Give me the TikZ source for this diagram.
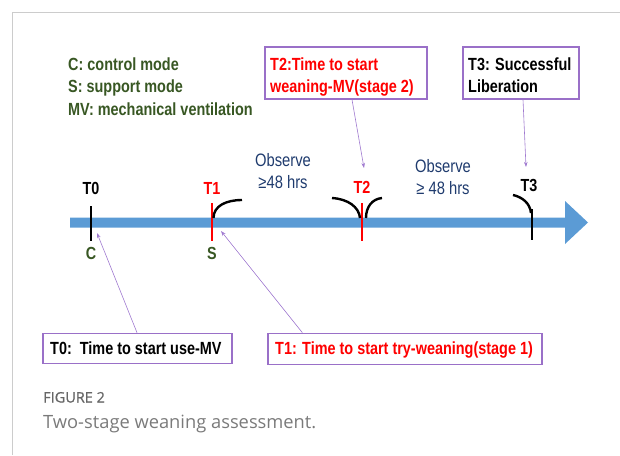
\documentclass[tikz,border=0pt]{standalone}
\usepackage{fontspec}
\usetikzlibrary{arrows.meta}
\setmainfont{Liberation Sans}
\newfontfamily\nar[FakeStretch=0.82]{Liberation Sans}
\newfontfamily\capfont{Open Sans}
\newfontfamily\capfontb[FakeBold=0.8]{Open Sans}
\definecolor{legendgreen}{HTML}{385723}
\definecolor{navytext}{HTML}{1F3B6E}
\definecolor{redtext}{HTML}{FF0000}
\definecolor{boxpurple}{HTML}{9A70C8}
\definecolor{connpurple}{HTML}{A07AD0}
\definecolor{arrowblue}{HTML}{5B9BD5}
\definecolor{framegray}{HTML}{CCCCCC}
\begin{document}
\begin{tikzpicture}[x=1pt,y=-1pt,
  legend/.style={anchor=base west,inner sep=0pt,text=legendgreen,font=\nar\bfseries\fontsize{17.6}{22}\selectfont},
  callbox/.style={draw=boxpurple,line width=1.3pt,fill=white,inner sep=0pt},
  boxtext/.style={anchor=base west,inner sep=0pt,font=\nar\bfseries\fontsize{17.6}{22}\selectfont},
  ticklabel/.style={inner sep=0pt,font=\nar\bfseries\fontsize{17.5}{20}\selectfont},
  obstext/.style={inner sep=0pt,align=center,text=navytext,font=\nar\fontsize{18}{22}\selectfont},
  conn/.style={draw=connpurple,line width=0.6pt,-{Stealth[length=5pt,width=3.5pt]}},
  tickline/.style={line width=2pt},
  bracket/.style={line width=2.4pt,black},
]
\useasboundingbox (0,0) rectangle (620,455);
% frame
\draw[framegray,line width=1.2pt] (12.5,455) -- (12.5,12.5) -- (620,12.5);

% legend
\node[legend] (lc) at (68,70) {C: control mode};
\node[legend] (ls) at (68,92.5) {S: support mode};
\node[legend] (lmv) at (68,115) {MV: mechanical ventilation};

% timeline arrow
\fill[arrowblue] (70,217.5) -- (565,217.5) -- (565,201) -- (588,222.5) -- (565,244) -- (565,227.5) -- (70,227.5) -- cycle;

% ticks
\coordinate (t0top) at (91,206); \coordinate (t0bot) at (91,241);
\coordinate (t1top) at (212,203); \coordinate (t1bot) at (212,241);
\coordinate (t2top) at (362,203); \coordinate (t2bot) at (362,241);
\coordinate (t3top) at (532,209); \coordinate (t3bot) at (532,240);
\draw[tickline,black] (t0top) -- (t0bot);
\draw[tickline,redtext] (t1top) -- (t1bot);
\draw[tickline,redtext] (t2top) -- (t2bot);
\draw[tickline,black] (t3top) -- (t3bot);

% brackets
\draw[bracket] (213.5,218) .. controls (213.5,206) and (226,200) .. (242,200);
\draw[bracket] (332,198) .. controls (348,199) and (359,207) .. (360,218);
\draw[bracket] (366,218) .. controls (366,207) and (372,199) .. (382,198);
\draw[bracket] (513,195) .. controls (522,197) and (530,203) .. (531,213);

% tick labels
\node[ticklabel,text=black] (lt0) at (91,188) {T0};
\node[ticklabel,text=redtext] (lt1) at (212,188) {T1};
\node[ticklabel,text=redtext] (lt2) at (362,187) {T2};
\node[ticklabel,text=black] (lt3) at (529,185) {T3};
\node[ticklabel,text=legendgreen] (lcc) at (91,253) {C};
\node[ticklabel,text=legendgreen] (lss) at (212,253) {S};

% observe texts
\node[obstext] (obs1) at (283,171) {Observe\\≥48 hrs};
\node[obstext] (obs2) at (443,177.5) {Observe\\≥ 48 hrs};

% boxes
\node[callbox,minimum width=162pt,minimum height=52pt] (t2box) at (346,73) {};
\node[boxtext,text=redtext] (t2a) at (270,70) {T2:Time to start};
\node[boxtext,text=redtext] (t2b) at (270,92.5) {weaning-MV(stage 2)};
\node[callbox,minimum width=116pt,minimum height=52pt] (t3box) at (521,73) {};
\node[boxtext,text=black] (t3a) at (468,70) {T3: Successful};
\node[boxtext,text=black] (t3b) at (468,92.5) {Liberation};
\node[callbox,minimum width=189pt,minimum height=30pt] (t0box) at (137.5,348.3) {};
\node[boxtext,text=black] (t0t) at (50,354.3) {T0:\ \ Time to start use-MV};
\node[callbox,minimum width=274pt,minimum height=31pt] (t1box) at (405,348.8) {};
\node[boxtext,text=redtext] (t1t) at (275,354.3) {T1: Time to start try-weaning(stage 1)};

% connectors
\coordinate (a0) at (97,233);
\coordinate (a1) at (221,231);
\coordinate (a2) at (364,168);
\coordinate (a3) at (526,167);
\draw[conn] ([xshift=-0.5pt]t0box.north) -- (a0);
\draw[conn] ([xshift=35pt]t1box.north west) -- (a1);
\draw[conn] ([xshift=6pt]t2box.south) -- (a2);
\draw[conn] ([xshift=2pt]t3box.south) -- (a3);

% caption
\node[anchor=base west,inner sep=0pt,text=black!60,font=\capfontb\fontsize{14.5}{18}\selectfont] (figlabel) at (43,402.5) {FIGURE 2};
\node[anchor=base west,inner sep=0pt,text=black!52,font=\capfont\fontsize{18.3}{22}\selectfont] (figcap) at (43,428.5) {Two-stage weaning assessment.};
\end{tikzpicture}
\end{document}
